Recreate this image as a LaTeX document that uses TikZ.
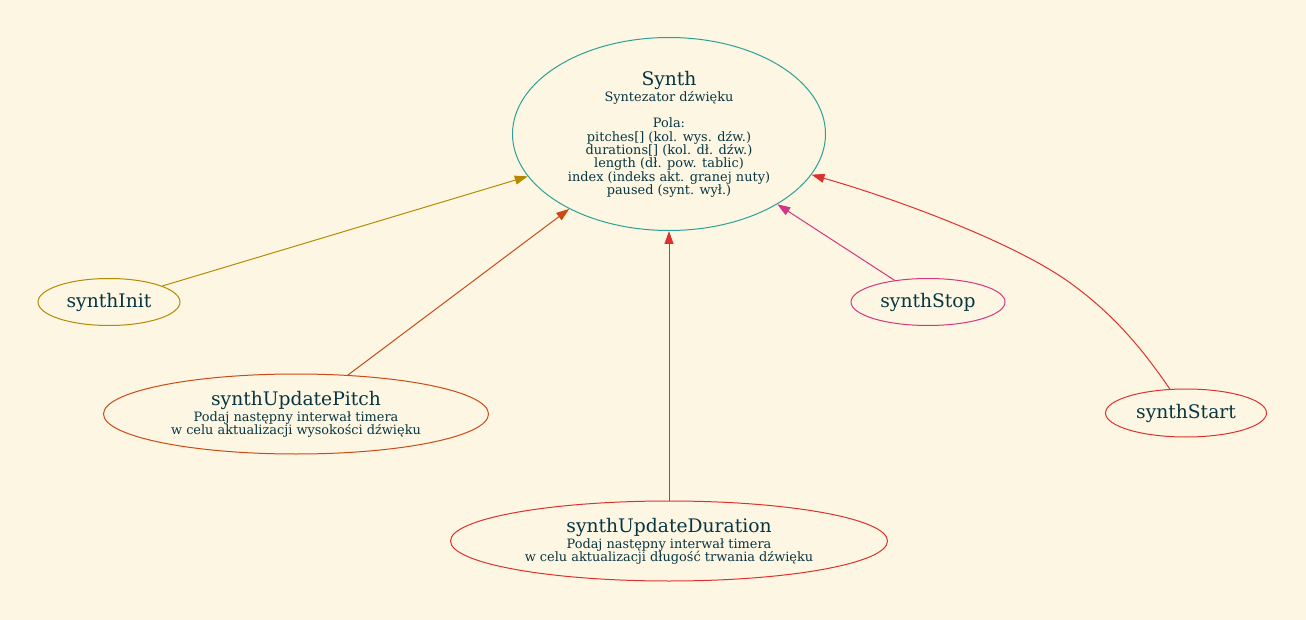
\documentclass[tikz,border=0pt]{standalone}
\usepackage{fontspec}
\setmainfont{DejaVu Serif}
\usetikzlibrary{shapes.geometric,arrows.meta}
\definecolor{bg}{HTML}{FDF6E3}
\definecolor{txt}{HTML}{073642}
\definecolor{scyan}{HTML}{2AA198}
\definecolor{syellow}{HTML}{B58900}
\definecolor{sorange}{HTML}{CB4B16}
\definecolor{sred}{HTML}{DC322F}
\definecolor{smagenta}{HTML}{D33682}
\newcommand{\bigf}{\fontsize{18.7}{22}\selectfont}
\newcommand{\smallf}{\fontsize{12.9}{13.3}\selectfont}
\tikzset{
  st/.style={ellipse, draw, line width=1pt, inner sep=0pt, text=txt, align=center, font=\smallf},
  edge/.style={line width=1pt, -{Triangle[length=13pt,width=9pt]}}
}
\begin{document}
\begin{tikzpicture}[x=1pt,y=-1pt]
\fill[bg] (0,0) rectangle (1306,620);
\useasboundingbox (0,0) rectangle (1306,620);
\node[st, draw=scyan, minimum width=313pt, minimum height=193pt] (synth) at (669,134)
  {{\bigf Synth}\\[1pt]Syntezator dźwięku\\ \\Pola:\\pitches[] (kol. wys. dźw.)\\durations[] (kol. dł. dźw.)\\length (dł. pow. tablic)\\index (indeks akt. granej nuty)\\paused (synt. wył.)};
\node[st, draw=syellow, minimum width=142pt, minimum height=47pt, font=\bigf] (init) at (109,302) {synthInit};
\node[st, draw=sorange, minimum width=385pt, minimum height=80pt] (pitch) at (296,414)
  {{\bigf synthUpdatePitch}\\[1pt]Podaj następny interwał timera\\w celu aktualizacji wysokości dźwięku};
\node[st, draw=sred, minimum width=437pt, minimum height=80pt] (dur) at (669,541)
  {{\bigf synthUpdateDuration}\\[1pt]Podaj następny interwał timera\\w celu aktualizacji długość trwania dźwięku};
\node[st, draw=smagenta, minimum width=154pt, minimum height=47pt, font=\bigf] (stop) at (928,302) {synthStop};
\node[st, draw=sred, minimum width=161pt, minimum height=48pt, font=\bigf] (start) at (1186,413) {synthStart};
\draw[edge, syellow] (init) -- (synth);
\draw[edge, sorange] (pitch) -- (synth);
\draw[edge, sred] (dur) -- (synth);
\draw[edge, smagenta] (stop) -- (synth);
\draw[edge, sred] (start) .. controls (1140,345) and (1110,312) .. (1073,285)
  .. controls (1020,245) and (900,200) .. (synth);
\end{tikzpicture}
\end{document}
